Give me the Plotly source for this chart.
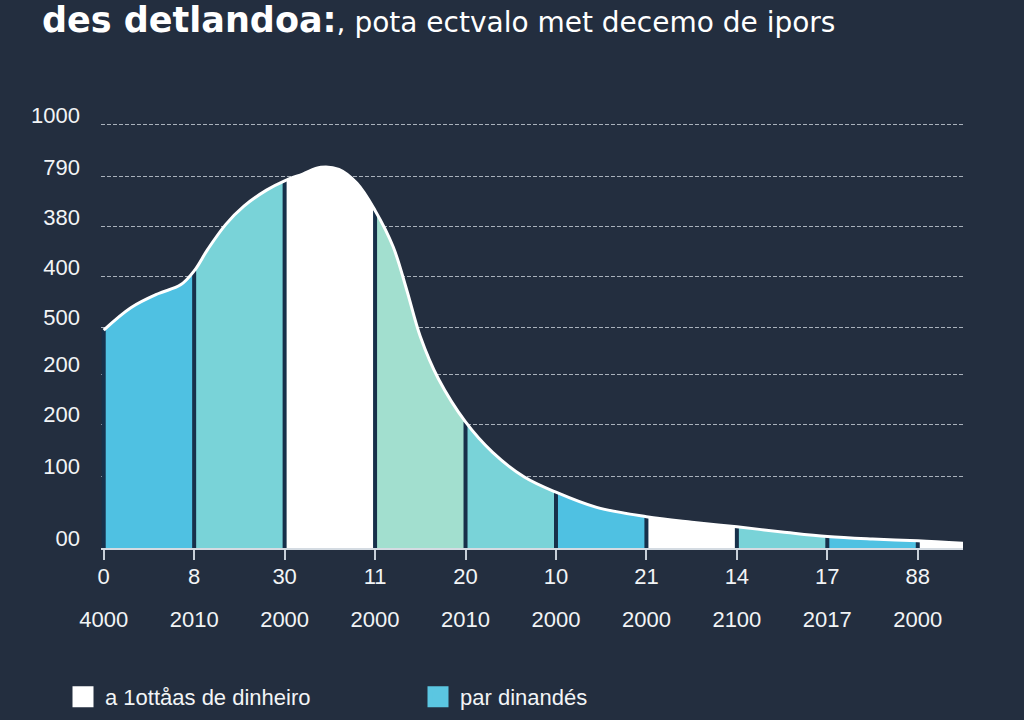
import plotly.graph_objects as go

# ---- data ----
curve_x = [0, 0.3, 0.6, 0.85, 1.0, 1.15, 1.35, 1.55, 1.8, 2.0, 2.2, 2.4, 2.6, 2.8, 3.0,
           3.2, 3.35, 3.5, 3.7, 4.0, 4.3, 4.65, 5.0, 5.45, 6.0, 6.5, 7.0, 7.5, 8.0, 8.5, 9.0, 9.5]
curve_y = [515, 568, 601, 622, 655, 706, 765, 808, 846, 868, 884, 900, 895, 862, 798,
           712, 610, 500, 400, 298, 226, 168, 132, 96, 74, 61, 50, 38, 27, 21, 17, 11]

seg_edges = [0, 1, 2, 3, 4, 5, 6, 7, 8, 9, 9.5]
seg_colors = ["#4fc1e2", "#79d3d8", "#ffffff", "#a2dfcf", "#79d3d8",
              "#4fc1e2", "#ffffff", "#79d3d8", "#4fc1e2", "#ffffff"]

x_ticks = [0, 1, 2, 3, 4, 5, 6, 7, 8, 9]
x_row1 = ["0", "8", "30", "11", "20", "10", "21", "14", "17", "88"]
x_row2 = ["4000", "2010", "2000", "2000", "2010", "2000", "2000", "2100", "2017", "2000"]

y_ticks = [0, 170, 293, 411, 522, 641, 759, 877, 1000]
y_labels = ["00", "100", "200", "200", "500", "400", "380", "790", "1000"]

legend_names = ["a 1ottåas de dinheiro", "par dinandés"]
legend_colors = ["#ffffff", "#5bc6e1"]

title_bold = "des detlandoa:"
title_rest = ", pota ectvalo met decemo de ipors"

# ---- styling ----
BG = "#232e3f"
SEP = "#17304a"
TXT = "#f2f4f6"
FONT = "Liberation Sans, Arial, sans-serif"

fig = go.Figure()

lookup = dict(zip(curve_x, curve_y))

# segment fills
for i in range(len(seg_edges) - 1):
    lo, hi = seg_edges[i], seg_edges[i + 1]
    xs = [x for x in curve_x if lo <= x <= hi]
    ys = [lookup[x] for x in xs]
    fig.add_trace(go.Scatter(
        x=xs, y=ys, mode="lines", fill="tozeroy", fillcolor=seg_colors[i],
        line=dict(width=0, shape="spline", color=seg_colors[i]),
        showlegend=False, hoverinfo="skip"))

# dark separators at segment boundaries
sep_x, sep_y = [], []
for b in seg_edges[:-1]:
    sep_x += [b, b, None]
    sep_y += [0, lookup[b], None]
fig.add_trace(go.Scatter(x=sep_x, y=sep_y, mode="lines",
                         line=dict(color=SEP, width=4),
                         showlegend=False, hoverinfo="skip"))

# white outline
fig.add_trace(go.Scatter(x=curve_x, y=curve_y, mode="lines",
                         line=dict(color="#ffffff", width=3, shape="spline"),
                         showlegend=False, hoverinfo="skip"))

# legend entries
for name, col in zip(legend_names, legend_colors):
    fig.add_trace(go.Scatter(x=[None], y=[None], mode="markers", name=name,
                             marker=dict(symbol="square", size=16, color=col,
                                         line=dict(color=col, width=5))))

xr = [-0.03, 9.5]

fig.update_layout(
    width=1024, height=720,
    paper_bgcolor=BG, plot_bgcolor=BG,
    margin=dict(l=101, r=61, t=100, b=80, autoexpand=False),
    font=dict(family=FONT, color=TXT, size=22),
    title=dict(
        text=f"<b><span style='font-size:35px'>{title_bold}</span></b>{title_rest}",
        x=42 / 1024, xanchor="left", xref="container",
        y=1 - 22 / 720, yanchor="middle", yref="container",
        pad=dict(t=0, b=0, l=0, r=0),
        font=dict(family="DejaVu Sans", size=28, color="#ffffff")),
    xaxis=dict(range=xr, tickvals=x_ticks, ticktext=x_row1,
               showgrid=False, zeroline=False, showline=True,
               linecolor="#d4dbe2", linewidth=2,
               ticks="outside", ticklen=10, tickwidth=2, tickcolor="#c8d0d8",
               tickfont=dict(size=22, color=TXT), ticklabelstandoff=-2),
    xaxis2=dict(range=xr, tickvals=x_ticks, ticktext=x_row2, overlaying="x",
                anchor="free", position=(640 - 604) / 540, side="bottom",
                showgrid=False, zeroline=False, showline=False, ticks="",
                tickfont=dict(size=22, color=TXT)),
    yaxis=dict(range=[0, 1059], domain=[(640 - 548) / 540, 1],
               tickvals=y_ticks, ticktext=y_labels,
               showgrid=True, gridcolor="rgba(215,222,230,0.75)", gridwidth=1,
               griddash="4px,2px", zeroline=False, showline=False, ticks="",
               tickfont=dict(size=22, color=TXT),
               ticklabelstandoff=20, ticklabelshift=-10),
    legend=dict(orientation="h", xref="container", yref="container",
                x=61 / 1024, y=1 - 697 / 720, xanchor="left", yanchor="middle",
                font=dict(size=22, color=TXT), bgcolor="rgba(0,0,0,0)",
                itemwidth=34, entrywidth=306, entrywidthmode="pixels"),
    showlegend=True,
)

# attach an invisible trace to xaxis2 so the axis is drawn
fig.add_trace(go.Scatter(x=[None], y=[None], xaxis="x2", showlegend=False,
                         hoverinfo="skip"))

fig.write_html("out.html")
